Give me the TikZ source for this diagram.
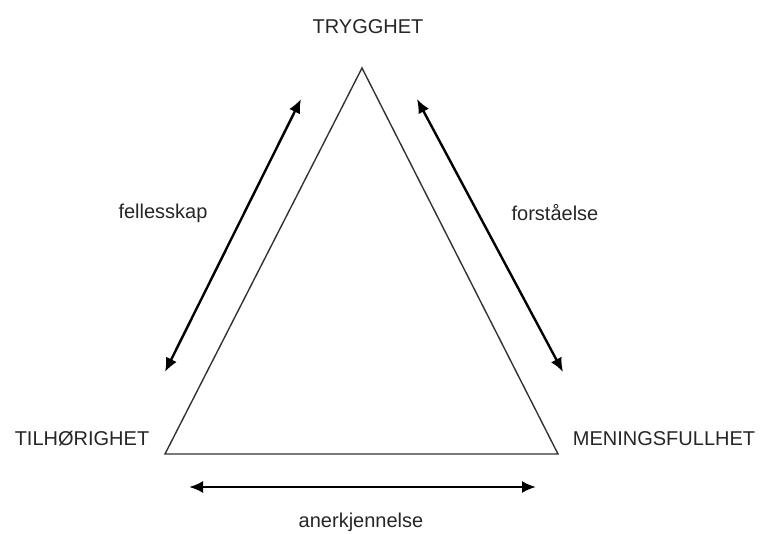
\documentclass[tikz,border=0pt]{standalone}
\usepackage{fontspec}
\setmainfont{Liberation Sans}
\usetikzlibrary{arrows.meta}
\begin{document}
\begin{tikzpicture}[x=1pt,y=-1pt,
  lbl/.style={inner sep=0pt, font=\fontsize{20}{23}\selectfont, text=black!85},
  edge/.style={draw=black!80, line width=1.4pt},
  dbl/.style={draw=black, line width=2.4pt, {Latex[length=14pt,width=12pt]}-{Latex[length=14pt,width=12pt]}}]
\useasboundingbox (0,0) rectangle (762,533);
\coordinate (A) at (362,68);
\coordinate (B) at (165,454);
\coordinate (C) at (558,454);
\draw[edge, line join=miter] (A) -- (B) -- (C) -- cycle;
\node[lbl] (t) at (368,27) {TRYGGHET};
\node[lbl] (l) at (82,439) {TILHØRIGHET};
\node[lbl] (m) at (664,439) {MENINGSFULLHET};
\node[lbl] (f) at (163,213) {fellesskap};
\node[lbl] (fo) at (555,213) {forståelse};
\node[lbl] (an) at (361,522) {anerkjennelse};
\coordinate (l1) at (165,372);
\coordinate (l2) at (301,99);
\coordinate (r1) at (417,99);
\coordinate (r2) at (563,372);
\coordinate (b1) at (189,487);
\coordinate (b2) at (536,487);
\draw[dbl] (l1) -- (l2);
\draw[dbl] (r1) -- (r2);
\draw[dbl] (b1) -- (b2);
\end{tikzpicture}
\end{document}
